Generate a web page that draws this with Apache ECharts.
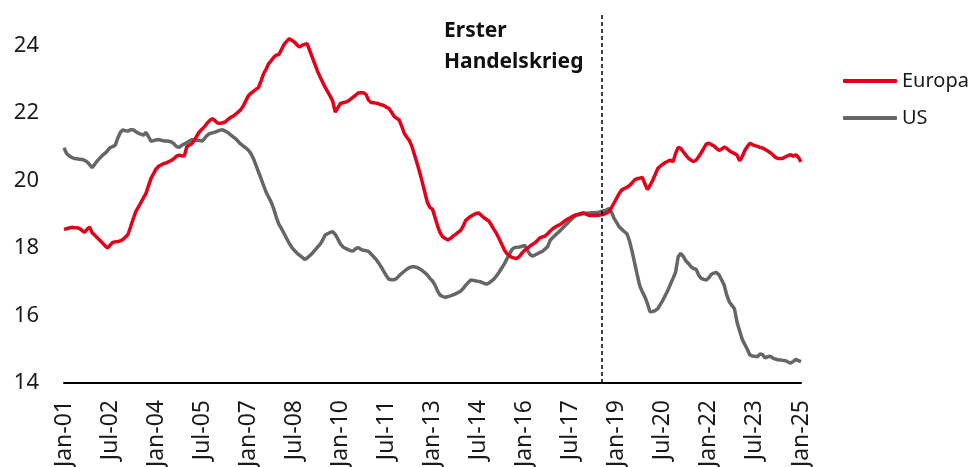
<!DOCTYPE html>
<html>
<head>
<meta charset="utf-8">
<script src="https://cdn.jsdelivr.net/npm/echarts@6/dist/echarts.min.js"></script>
<style>
html,body{margin:0;padding:0;background:#fff;}
#chart{width:972px;height:467px;}
</style>
</head>
<body>
<div id="chart"></div>
<script>
// Month labels and years (category axis: monthly, Jan-01 .. Jan-25)
var monthNames = ['Jan','Feb','Mar','Apr','May','Jun','Jul','Aug','Sep','Oct','Nov','Dec'];
var startYear = 2001, endYear = 2025;
var categories = [];
for (var y = startYear; y <= endYear; y++) {
  for (var m = 0; m < 12; m++) {
    if (y === endYear && m > 0) break;
    categories.push(monthNames[m] + '-' + String(y).slice(2));
  }
}

// Y axis ticks
var yTicks = [14, 16, 18, 20, 22, 24];

// Event marker
var eventCategory = 'Jul-18';
var eventLabel = 'Erster\nHandelskrieg';

// Series names
var seriesNames = ['Europa', 'US'];

// Europa (monthly, Jan-01 .. Jan-25)
var europa = [
  18.55,18.57,18.59,18.61,18.60,18.60,18.58,18.52,18.46,18.55,18.62,18.45,
  18.38,18.30,18.23,18.15,18.07,18.00,18.08,18.16,18.18,18.19,18.21,18.25,
  18.32,18.40,18.62,18.85,19.07,19.20,19.34,19.48,19.61,19.84,20.06,20.20,
  20.34,20.42,20.46,20.50,20.52,20.56,20.60,20.65,20.72,20.75,20.73,20.72,
  21.00,21.05,21.09,21.20,21.33,21.45,21.52,21.60,21.70,21.78,21.83,21.77,
  21.70,21.69,21.71,21.73,21.80,21.86,21.90,21.96,22.02,22.09,22.20,22.35,
  22.50,22.58,22.64,22.70,22.75,22.95,23.16,23.30,23.46,23.55,23.65,23.71,
  23.73,23.88,24.03,24.12,24.20,24.15,24.10,24.02,23.95,24.00,24.03,24.05,
  23.85,23.65,23.45,23.25,23.08,22.92,22.77,22.63,22.50,22.35,22.02,22.15,
  22.28,22.30,22.32,22.35,22.41,22.47,22.53,22.59,22.60,22.60,22.55,22.38,
  22.31,22.30,22.29,22.27,22.24,22.22,22.17,22.13,22.02,21.90,21.84,21.79,
  21.60,21.39,21.28,21.18,21.00,20.75,20.50,20.24,19.95,19.65,19.35,19.20,
  19.15,18.90,18.65,18.45,18.33,18.28,18.24,18.28,18.35,18.40,18.46,18.52,
  18.65,18.82,18.88,18.94,18.98,19.02,19.04,18.97,18.90,18.85,18.80,18.68,
  18.55,18.43,18.28,18.12,17.95,17.84,17.77,17.72,17.70,17.69,17.75,17.85,
  17.93,17.99,18.05,18.10,18.15,18.22,18.30,18.33,18.35,18.42,18.50,18.57,
  18.62,18.66,18.70,18.76,18.82,18.86,18.90,18.95,18.98,19.00,19.02,19.04,
  19.00,18.97,18.96,18.97,18.96,18.97,18.98,19.00,19.03,19.08,19.20,19.34,
  19.48,19.62,19.72,19.76,19.80,19.85,19.93,20.02,20.05,20.07,20.09,19.90,
  19.73,19.85,20.00,20.17,20.35,20.42,20.48,20.53,20.57,20.60,20.55,20.80,
  20.98,20.95,20.85,20.75,20.66,20.60,20.56,20.60,20.70,20.82,20.95,21.08,
  21.10,21.06,21.02,20.95,20.89,20.93,20.99,20.95,20.88,20.83,20.80,20.75,
  20.58,20.70,20.88,21.00,21.10,21.06,21.03,21.01,20.98,20.96,20.92,20.87,
  20.82,20.76,20.68,20.65,20.65,20.66,20.70,20.74,20.76,20.72,20.76,20.68,
  20.55
];

// US (monthly, Jan-01 .. Jan-25)
var us = [
  20.97,20.80,20.73,20.68,20.65,20.64,20.63,20.62,20.60,20.55,20.47,20.38,
  20.48,20.58,20.66,20.74,20.80,20.88,20.97,21.00,21.04,21.25,21.42,21.50,
  21.47,21.46,21.50,21.50,21.45,21.40,21.37,21.34,21.42,21.30,21.16,21.18,
  21.20,21.21,21.19,21.17,21.17,21.16,21.14,21.08,21.00,20.98,21.04,21.08,
  21.12,21.17,21.21,21.20,21.19,21.18,21.17,21.25,21.34,21.39,21.41,21.43,
  21.46,21.49,21.50,21.46,21.42,21.36,21.30,21.24,21.16,21.08,21.02,20.97,
  20.90,20.80,20.65,20.45,20.25,20.05,19.85,19.65,19.50,19.35,19.15,18.90,
  18.70,18.57,18.43,18.28,18.14,18.02,17.93,17.85,17.79,17.73,17.66,17.70,
  17.77,17.84,17.93,18.02,18.10,18.22,18.38,18.42,18.46,18.48,18.40,18.27,
  18.12,18.03,17.99,17.95,17.92,17.91,17.98,18.01,17.96,17.93,17.92,17.90,
  17.82,17.74,17.66,17.55,17.43,17.30,17.17,17.07,17.06,17.06,17.10,17.18,
  17.25,17.31,17.37,17.42,17.44,17.44,17.42,17.38,17.33,17.27,17.20,17.10,
  17.02,16.90,16.72,16.60,16.56,16.54,16.56,16.58,16.61,16.64,16.68,16.72,
  16.80,16.90,16.98,17.05,17.04,17.02,17.01,16.99,16.96,16.93,16.96,17.02,
  17.08,17.17,17.28,17.40,17.52,17.66,17.80,17.95,18.01,18.02,18.03,18.05,
  18.08,17.95,17.82,17.76,17.79,17.83,17.87,17.90,17.97,18.04,18.23,18.31,
  18.38,18.45,18.52,18.60,18.68,18.75,18.83,18.90,18.96,18.98,19.00,19.02,
  19.03,19.03,19.04,19.04,19.05,19.06,19.08,19.10,19.13,19.17,19.05,18.87,
  18.75,18.62,18.55,18.48,18.42,18.20,17.90,17.55,17.20,16.88,16.70,16.55,
  16.35,16.11,16.12,16.14,16.20,16.32,16.45,16.60,16.75,16.93,17.10,17.28,
  17.74,17.84,17.75,17.62,17.54,17.45,17.39,17.37,17.20,17.10,17.07,17.05,
  17.12,17.22,17.26,17.27,17.20,17.05,16.90,16.60,16.40,16.30,16.20,15.80,
  15.55,15.30,15.15,15.00,14.83,14.80,14.79,14.78,14.86,14.84,14.74,14.78,
  14.79,14.74,14.71,14.69,14.68,14.67,14.66,14.62,14.59,14.64,14.70,14.66,
  14.63
];

var FONT = '"Noto Sans", "DejaVu Sans", sans-serif';
var chart = echarts.init(document.getElementById('chart'), null, {renderer: 'canvas'});
chart.setOption({
  animation: false,
  backgroundColor: '#ffffff',
  grid: {left: 64, right: 171, top: 15, bottom: 84, containLabel: false, outerBoundsMode: 'none'},
  legend: {
    orient: 'vertical',
    left: 838,
    top: 66,
    itemWidth: 54,
    itemHeight: 4,
    itemGap: 17,
    icon: 'roundRect',
    textStyle: {fontFamily: FONT, fontSize: 20, color: '#1a1a1a', padding: [0,0,0,0]},
    data: seriesNames
  },
  xAxis: {
    type: 'category',
    data: categories,
    boundaryGap: false,
    axisLine: {show: true, lineStyle: {color: '#000', width: 2}},
    axisTick: {show: false},
    splitLine: {show: false},
    axisLabel: {
      interval: 17,
      rotate: 90,
      margin: 17,
      fontFamily: FONT,
      fontSize: 23,
      color: '#1a1a1a'
    }
  },
  yAxis: {
    type: 'value',
    min: yTicks[0],
    max: 24.9,
    interval: 2,
    axisLine: {show: false},
    axisTick: {show: false},
    splitLine: {show: false},
    axisLabel: {
      margin: 25,
      fontFamily: FONT,
      fontSize: 22,
      color: '#1a1a1a',
      formatter: function (v) { return yTicks.indexOf(v) >= 0 ? String(v) : ''; }
    }
  },
  graphic: [{
    type: 'text',
    left: 444,
    top: 16,
    style: {
      text: eventLabel,
      fontFamily: FONT,
      fontSize: 21,
      fontWeight: 'bold',
      lineHeight: 31,
      fill: '#111'
    }
  }],
  series: [
    {
      name: seriesNames[0],
      type: 'line',
      data: europa,
      showSymbol: false,
      symbol: 'none',
      smooth: false,
      lineStyle: {color: '#e3001b', width: 3.5},
      itemStyle: {color: '#e3001b'},
      z: 3,
      markLine: {
        silent: true,
        symbol: ['none', 'none'],
        label: {show: false},
        lineStyle: {color: '#000', type: [4, 3], width: 1.5},
        data: [{xAxis: eventCategory}]
      }
    },
    {
      name: seriesNames[1],
      type: 'line',
      data: us,
      showSymbol: false,
      symbol: 'none',
      smooth: false,
      lineStyle: {color: '#666666', width: 3.5},
      itemStyle: {color: '#666666'},
      z: 2
    }
  ]
});
</script>
</body>
</html>
